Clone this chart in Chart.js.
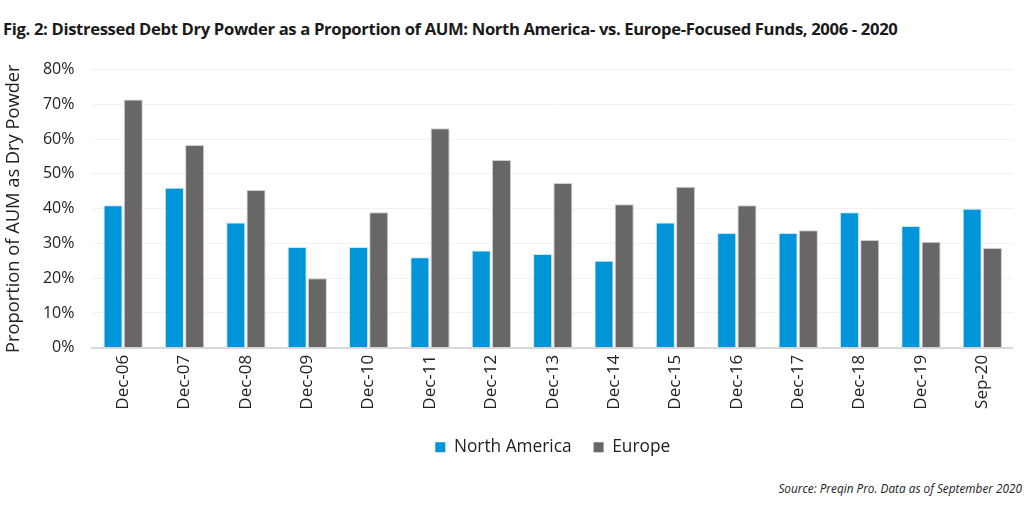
<!DOCTYPE html>
<html>
<head>
<meta charset="utf-8">
<script src="https://cdn.jsdelivr.net/npm/chart.js@4"></script>
<style>
  body { margin: 0; background: #fff; width: 1024px; height: 512px; overflow: hidden; position: relative; font-family: "Open Sans", sans-serif; }
  #title { position: absolute; left: 3px; top: 17px; font-size: 16.65px; font-weight: bold; color: #1a1a1a; white-space: nowrap; letter-spacing: -0.35px; }
  #source { position: absolute; right: 2px; top: 480px; font-size: 11.8px; font-style: italic; color: #222; }
  #wrap { position: absolute; left: 0; top: 42px; width: 1013px; height: 424px; }
</style>
</head>
<body>
<div id="title">Fig. 2: Distressed Debt Dry Powder as a Proportion of AUM: North America- vs. Europe-Focused Funds, 2006 - 2020</div>
<div id="wrap"><canvas id="mycanvas"></canvas></div>
<div id="source">Source: Preqin Pro. Data as of September 2020</div>
<script>
var periods = ['Dec-06','Dec-07','Dec-08','Dec-09','Dec-10','Dec-11','Dec-12','Dec-13','Dec-14','Dec-15','Dec-16','Dec-17','Dec-18','Dec-19','Sep-20'];
var northAmerica = [41, 46, 36, 29, 29, 26, 28, 27, 25, 36, 33, 33, 39, 35, 40];
var europe = [71.4, 58.3, 45.4, 20, 39, 63.1, 54, 47.4, 41.3, 46.3, 41, 33.8, 31, 30.5, 28.7];

var chartdata = {
  labels: periods,
  datasets: [
    {
      label: 'North America',
      backgroundColor: '#0094d8',
      borderColor: '#c8e6f5',
      borderWidth: 1,
      data: northAmerica
    },
    {
      label: 'Europe',
      backgroundColor: '#686666',
      borderColor: '#cfcfcf',
      borderWidth: 1,
      data: europe
    }
  ]
};

var ctx = document.getElementById('mycanvas');
new Chart(ctx, {
  type: 'bar',
  data: chartdata,
  options: {
    responsive: true,
    maintainAspectRatio: false,
    animation: false,
    datasets: { bar: { categoryPercentage: 0.66, barPercentage: 0.94 } },
    layout: { padding: { left: 0, right: 0, top: 25, bottom: 0 } },
    plugins: {
      legend: {
        position: 'bottom',
        fullSize: false,
        labels: {
          font: { family: 'Open Sans', size: 17.3 },
          color: '#222',
          boxWidth: 10,
          boxHeight: 10,
          padding: 22,
          generateLabels: function (chart) {
            return chart.data.datasets.map(function (ds, i) {
              return { text: ds.label, fillStyle: ds.backgroundColor, strokeStyle: ds.backgroundColor, lineWidth: 0, fontColor: '#222', datasetIndex: i };
            });
          }
        }
      },
      tooltip: { enabled: false }
    },
    scales: {
      x: {
        grid: { display: false, drawTicks: false },
        border: { color: '#d9d9d9', width: 2 },
        ticks: { font: { family: 'Open Sans', size: 17 }, color: '#222', maxRotation: 90, minRotation: 90, padding: 7 }
      },
      y: {
        min: 0,
        max: 80,
        grid: { color: '#f2f2f2', drawTicks: false },
        border: { display: false },
        ticks: {
          stepSize: 10,
          font: { family: 'Open Sans', size: 16 },
          color: '#222',
          padding: 18,
          callback: function (v) { return v + '%'; }
        },
        title: {
          display: true,
          text: 'Proportion of AUM as Dry Powder',
          font: { family: 'Open Sans', size: 18.3 },
          color: '#222',
          padding: { top: 3, bottom: 0 }
        }
      }
    }
  }
});
</script>
</body>
</html>
